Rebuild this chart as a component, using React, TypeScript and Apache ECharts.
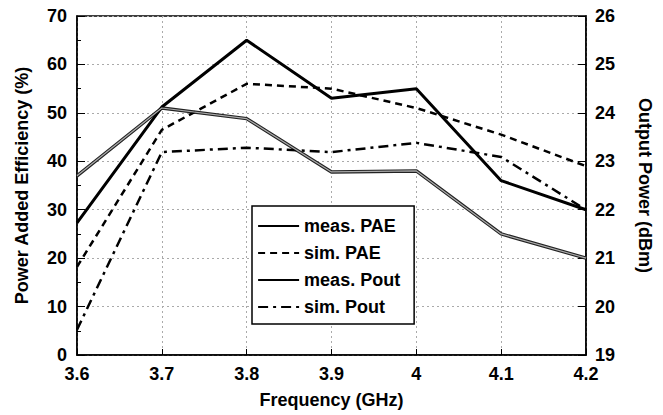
import React, { useEffect, useRef } from "react";
import * as echarts from "echarts";

const frequencies = ["3.6", "3.7", "3.8", "3.9", "4", "4.1", "4.2"];
const measPAE = [37, 51, 48.8, 37.8, 38, 25, 20];
const simPAE = [18.2, 46.5, 56, 55, 51, 45.5, 39];
const measPout = [21.73, 24.12, 25.5, 24.3, 24.5, 22.6, 22.0];
const simPout = [19.52, 23.19, 23.28, 23.19, 23.38, 23.09, 22.0];
const legendNames = ["meas. PAE", "sim. PAE", "meas. Pout", "sim. Pout"];

const FONT = "'Liberation Sans', Arial, Helvetica, sans-serif";

export default function App() {
  const ref = useRef<HTMLDivElement>(null);
  useEffect(() => {
    if (!ref.current) return;
    const chart = echarts.init(ref.current, undefined, { renderer: "svg" });
    const labelStyle = { color: "#000", fontSize: 18, fontWeight: "bold" as const, fontFamily: FONT };
    const nameStyle = { color: "#000", fontSize: 18, fontWeight: "bold" as const, fontFamily: FONT };
    chart.setOption({
      animation: false,
      backgroundColor: "#fff",
      grid: {
        left: 77,
        right: 77,
        top: 16,
        bottom: 60,
        show: true,
        borderColor: "#000",
        borderWidth: 1.5,
        backgroundColor: "transparent",
      },
      legend: {
        orient: "vertical",
        left: 252,
        top: 206,
        backgroundColor: "#fff",
        borderColor: "#000",
        borderWidth: 1.5,
        padding: [11, 14, 8, 5],
        itemWidth: 41,
        itemHeight: 14,
        itemGap: 9,
        itemStyle: { opacity: 0 },
        textStyle: { color: "#000", fontSize: 18, fontWeight: "bold", fontFamily: FONT, lineHeight: 14 },
        data: [
          { name: legendNames[0], lineStyle: { color: "#000", width: 2.2 } },
          legendNames[1],
          legendNames[2],
          legendNames[3],
        ],
      },
      xAxis: {
        type: "category",
        data: frequencies,
        boundaryGap: false,
        name: "Frequency (GHz)",
        nameLocation: "middle",
        nameGap: 36,
        nameTextStyle: nameStyle,
        axisLine: { show: true, lineStyle: { color: "#000", width: 1.5 } },
        axisTick: { show: true, inside: true, length: 6, lineStyle: { color: "#000" } },
        axisLabel: { ...labelStyle, margin: 10 },
        splitLine: { show: true, lineStyle: { color: "#aaa", type: [2, 3], width: 1 } },
      },
      yAxis: [
        {
          type: "value",
          min: 0,
          max: 70,
          interval: 10,
          name: "Power Added Efficiency (%)",
          nameLocation: "middle",
          nameGap: 46,
          nameRotate: 90,
          nameTextStyle: nameStyle,
          axisLine: { show: true, lineStyle: { color: "#000", width: 1.5 } },
          axisTick: { show: true, inside: true, length: 8, lineStyle: { color: "#000" } },
          minorTick: { show: true, splitNumber: 2, length: 4, lineStyle: { color: "#000" } },
          axisLabel: { ...labelStyle, margin: 10 },
          splitLine: { show: true, lineStyle: { color: "#aaa", type: [2, 3], width: 1 } },
        },
        {
          type: "value",
          min: 19,
          max: 26,
          interval: 1,
          position: "right",
          name: "Output Power (dBm)",
          nameLocation: "middle",
          nameGap: 50,
          nameRotate: -90,
          nameTextStyle: nameStyle,
          axisLine: { show: true, lineStyle: { color: "#000", width: 1.5 } },
          axisTick: { show: true, inside: true, length: 8, lineStyle: { color: "#000" } },
          axisLabel: { ...labelStyle, margin: 9 },
          splitLine: { show: false },
        },
      ],
      series: [
        {
          name: legendNames[0],
          type: "line",
          yAxisIndex: 0,
          data: measPAE,
          symbol: "none",
          color: "#000",
          lineStyle: { color: "#222", width: 3.4 },
          z: 3,
        },
        {
          name: "meas. PAE inner",
          type: "line",
          yAxisIndex: 0,
          data: measPAE,
          symbol: "none",
          lineStyle: { color: "#aaa", width: 1.2 },
          z: 4,
          silent: true,
        },
        {
          name: legendNames[1],
          type: "line",
          yAxisIndex: 0,
          data: simPAE,
          symbol: "none",
          color: "#000",
          lineStyle: { color: "#000", width: 2.5, type: [7, 5] },
          z: 3,
        },
        {
          name: legendNames[2],
          type: "line",
          yAxisIndex: 1,
          data: measPout,
          symbol: "none",
          color: "#000",
          lineStyle: { color: "#000", width: 3 },
          z: 3,
        },
        {
          name: legendNames[3],
          type: "line",
          yAxisIndex: 1,
          data: simPout,
          symbol: "none",
          color: "#000",
          lineStyle: { color: "#000", width: 2.5, type: [10, 5, 3, 5] },
          z: 3,
        },
      ],
    });
    return () => chart.dispose();
  }, []);
  return (
    <div
      ref={ref}
      style={{ position: "fixed", left: 0, top: 0, width: 663, height: 415, background: "#fff" }}
    />
  );
}
